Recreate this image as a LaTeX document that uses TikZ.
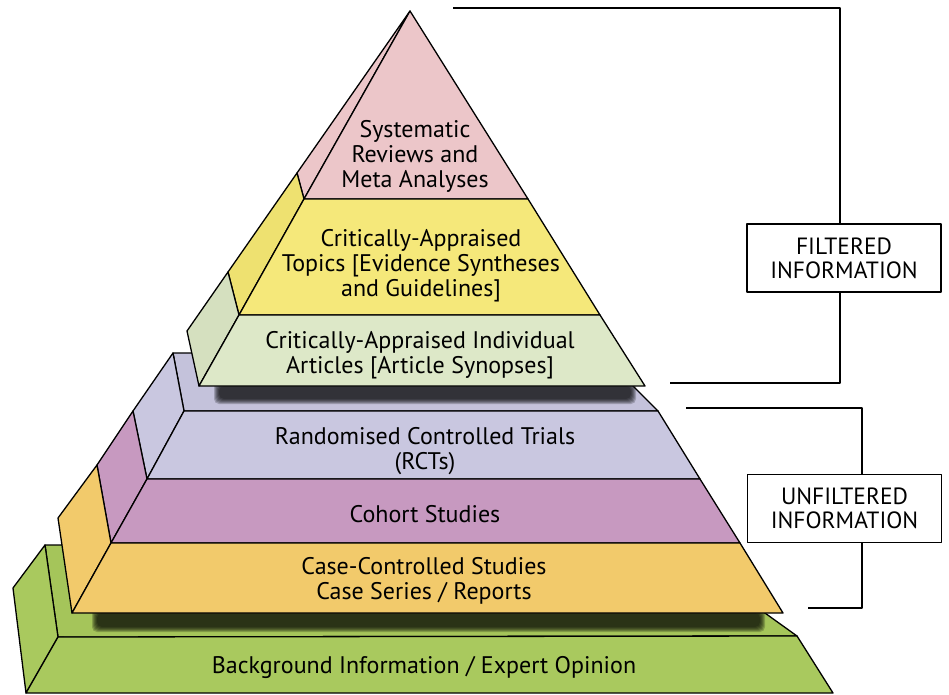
\documentclass[tikz,border=0pt]{standalone}
\usepackage{fontspec}
\setmainfont{PT Sans}

\definecolor{pinkband}{RGB}{236,198,201}
\definecolor{yellowband}{RGB}{245,232,122}
\definecolor{yellowside}{RGB}{238,225,112}
\definecolor{lightgreenband}{RGB}{221,232,200}
\definecolor{lightgreenside}{RGB}{213,224,191}
\definecolor{lavenderband}{RGB}{201,199,224}
\definecolor{lavendertop}{RGB}{196,194,219}
\definecolor{mauveband}{RGB}{199,153,192}
\definecolor{orangeband}{RGB}{242,202,107}
\definecolor{greenband}{RGB}{169,201,94}
\definecolor{greentop}{RGB}{165,197,90}

\begin{document}
\begin{tikzpicture}[
    x=1pt, y=-1pt,
    line join=round,
    edge/.style={draw=black, line width=1.3pt},
    bracket/.style={line width=1.2pt},
    level/.style={font={\fontsize{24}{25}\selectfont}, align=center},
    infobox/.style={draw, line width=1.2pt, fill=white, inner sep=0pt,
        minimum width=194pt, minimum height=68pt,
        font={\fontsize{23.5}{24}\selectfont}, align=center}
]
    \useasboundingbox (0,0) rectangle (949,695);

    % Draw bottom slab
    \filldraw[edge, fill=greentop] (45,545) coordinate (s_1) -- (670,545) -- (797,636) coordinate (s_3) -- (58,637) coordinate (s_2) -- cycle;
    \filldraw[edge, fill=greenband] (s_1) -- (s_2) -- (26,693) coordinate (s_4) -- (13,588) -- cycle;
    \filldraw[edge, fill=greenband] (s_2) -- (s_3) -- (833,693) -- (s_4) -- cycle;
    \node[level] (background) at (424,667) {Background Information / Expert Opinion};

    % Shadow of middle block
    \foreach \i in {0,...,5}
        \fill[black, opacity=0.2, rounded corners=5pt] (92+\i,608+\i) rectangle (765-\i,632-\i);

    % Draw middle block
    \filldraw[edge, fill=lavendertop] (173,353) coordinate (o_0) -- (600,353) -- (658,411) coordinate (r_0) -- (184,411) coordinate (f_0) -- cycle;
    \path (133,411) coordinate (o_1) (97,465) coordinate (o_2) (58,518) coordinate (o_3)
          (147,479) coordinate (f_1) (111,543) coordinate (f_2) (72,613) coordinate (f_3)
          (700,479) coordinate (r_1) (740,543) coordinate (r_2) (783,613) coordinate (r_3);
    \filldraw[edge, fill=lavenderband] (o_0) -- (f_0) -- (f_1) -- (o_1) -- cycle;
    \filldraw[edge, fill=mauveband] (o_1) -- (f_1) -- (f_2) -- (o_2) -- cycle;
    \filldraw[edge, fill=orangeband] (o_2) -- (f_2) -- (f_3) -- (o_3) -- cycle;
    \filldraw[edge, fill=lavenderband] (f_0) -- (r_0) -- (r_1) -- (f_1) -- cycle;
    \filldraw[edge, fill=mauveband] (f_1) -- (r_1) -- (r_2) -- (f_2) -- cycle;
    \filldraw[edge, fill=orangeband] (f_2) -- (r_2) -- (r_3) -- (f_3) -- cycle;

    \node[level] (rct) at (425,451) {Randomised Controlled Trials\\(RCTs)};
    \node[level] (cohort) at (425,514) {Cohort Studies};
    \node[level] (casecontrol) at (424,581) {Case-Controlled Studies\\Case Series / Reports};

    % Shadow of top block
    \foreach \i in {0,...,5}
        \fill[black, opacity=0.2, rounded corners=5pt] (214+\i,381+\i) rectangle (636-\i,404-\i);

    % Draw top block
    \path (410,11) coordinate (apex)
          (297,173) coordinate (t_1) (228,272) coordinate (t_2) (187,331) coordinate (t_3)
          (304,199) coordinate (u_1) (239,315) coordinate (u_2) (199,386) coordinate (u_3)
          (528,199) coordinate (v_1) (600,315) coordinate (v_2) (645,386) coordinate (v_3);
    \filldraw[edge, fill=pinkband] (apex) -- (u_1) -- (t_1) -- cycle;
    \filldraw[edge, fill=yellowside] (t_1) -- (u_1) -- (u_2) -- (t_2) -- cycle;
    \filldraw[edge, fill=lightgreenside] (t_2) -- (u_2) -- (u_3) -- (t_3) -- cycle;
    \filldraw[edge, fill=pinkband] (apex) -- (v_1) -- (u_1) -- cycle;
    \filldraw[edge, fill=yellowband] (u_1) -- (v_1) -- (v_2) -- (u_2) -- cycle;
    \filldraw[edge, fill=lightgreenband] (u_2) -- (v_2) -- (v_3) -- (u_3) -- cycle;

    \node[level] (systematic) at (415,156) {Systematic\\Reviews and\\Meta Analyses};
    \node[level] (topics) at (421,266) {Critically-Appraised\\Topics [Evidence Syntheses\\and Guidelines]};
    \node[level] (articles) at (420,355) {Critically-Appraised Individual\\Articles [Article Synopses]};

    % Draw brackets
    \coordinate (fb_1) at (453,8);
    \coordinate (fb_2) at (670,383);
    \coordinate (ub_1) at (686,408);
    \coordinate (ub_2) at (808,608);
    \draw[bracket] (fb_1) -- (840,8) -- (840,383) -- (fb_2);
    \draw[bracket] (ub_1) -- (862,408) -- (862,608) -- (ub_2);
    \node[infobox] (filtered) at (844,258) {FILTERED\\INFORMATION};
    \node[infobox] (unfiltered) at (844.5,508.5) {UNFILTERED\\INFORMATION};

\end{tikzpicture}
\end{document}
